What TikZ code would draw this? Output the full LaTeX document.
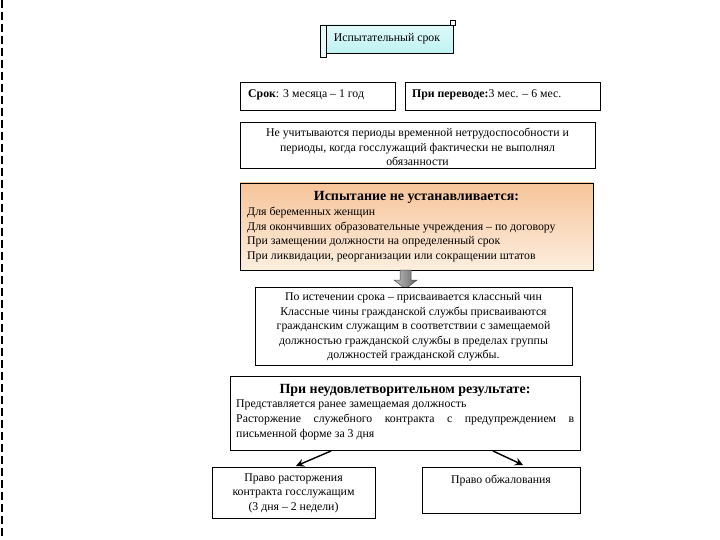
\documentclass[tikz,border=0pt]{standalone}
\usepackage{fontspec}
\setmainfont{Liberation Serif}
\usetikzlibrary{arrows.meta}
\definecolor{scrollc}{HTML}{BFF2F2}
\definecolor{orangetop}{HTML}{F6C49A}
\definecolor{orangebot}{HTML}{FDEEDF}
\tikzset{
  boxs/.style={draw=black, line width=0.8pt, fill=white},
  txt/.style={inner sep=0pt, font=\fontsize{11.8}{14.5}\selectfont},
  ctxt/.style={txt, align=center},
  ttl/.style={inner sep=0pt, font=\fontsize{14}{16}\selectfont\bfseries},
  arr/.style={-{Stealth[length=8pt,width=8pt]}, line width=1.4pt},
}
\begin{document}
\begin{tikzpicture}[x=1pt,y=-1pt]
\useasboundingbox (0,0) rectangle (720,540);
% left dashed border
\draw[line width=2pt, dash pattern=on 8pt off 4pt] (2,0) -- (2,540);

% scroll
\shade[top color=scrollc!50, bottom color=scrollc, draw=black, line width=0.6pt] (323,25) rectangle (453,53);
\draw[line width=0.6pt, fill=scrollc!40] (320,25) rectangle (326,57);
\draw[line width=0.6pt, fill=white] (450,20) rectangle (455,25);
\node[txt] (scroll) at (387,39) {Испытательный срок};

% top boxes
\node[boxs, minimum width=155pt, minimum height=28pt] (srok) at (317.5,96) {};
\node[txt, anchor=west] at (248,95) {\textbf{Срок}: 3 месяца – 1 год};
\node[boxs, minimum width=195pt, minimum height=28pt] (perev) at (502.5,96) {};
\node[txt, anchor=west] at (412,95) {\textbf{При переводе:}3 мес. – 6 мес.};

% not counted
\node[boxs, minimum width=355pt, minimum height=46pt] (nc) at (417.5,145) {};
\node[ctxt] at (417.5,147) {Не учитываются периоды временной нетрудоспособности и\\периоды, когда госслужащий фактически не выполнял\\обязанности};

% orange box
\shade[top color=orangetop, bottom color=orangebot, draw=black, line width=0.8pt] (240,183) rectangle (593,270);
\node (orange) at (416.5,226.5) {};
\node[ttl] at (416.5,197) {Испытание не устанавливается:};
\node[txt, anchor=west] at (247,213) {Для беременных женщин};
\node[txt, anchor=west] at (247,228) {Для окончивших образовательные учреждения – по договору};
\node[txt, anchor=west] at (247,242) {При замещении должности на определенный срок};
\node[txt, anchor=west] at (247,257) {При ликвидации, реорганизации или сокращении штатов};

% block arrow
\shade[left color=gray!50, right color=gray!80!black, draw=gray!60!black, line width=0.5pt]
  (400,270) -- (411,270) -- (411,280) -- (417,280) -- (405.5,289) -- (394,280) -- (400,280) -- cycle;

% expiry box
\node[boxs, minimum width=317pt, minimum height=78pt] (exp) at (413.5,326) {};
\node[ctxt] at (413.5,327) {По истечении срока – присваивается классный чин\\Классные чины гражданской службы присваиваются\\гражданским служащим в соответствии с замещаемой\\должностью гражданской службы в пределах группы\\должностей гражданской службы.};

% unsatisfactory box
\node[boxs, minimum width=350pt, minimum height=74pt] (uns) at (405,413) {};
\node[ttl] at (405,390) {При неудовлетворительном результате:};
\node[txt, anchor=north west] at (236,400) {\parbox{338pt}{\setlength\parindent{0pt}\fontsize{11.8}{15}\selectfont
Представляется ранее замещаемая должность\par
Расторжение служебного контракта с предупреждением в письменной форме за 3 дня}};

% bottom boxes
\node[boxs, minimum width=163pt, minimum height=51pt] (left) at (293.5,492.5) {};
\node[ctxt] at (293.5,493) {Право расторжения\\контракта госслужащим\\(3 дня – 2 недели)};
\node[boxs, minimum width=158pt, minimum height=46pt] (right) at (501,490) {};
\node[txt] at (501,481) {Право обжалования};

\coordinate (a1) at (331,451);
\coordinate (a1e) at (296,466);
\coordinate (a2) at (493,451);
\coordinate (a2e) at (523,465);
\draw[arr] (a1) -- (a1e);
\draw[arr] (a2) -- (a2e);
\end{tikzpicture}
\end{document}
